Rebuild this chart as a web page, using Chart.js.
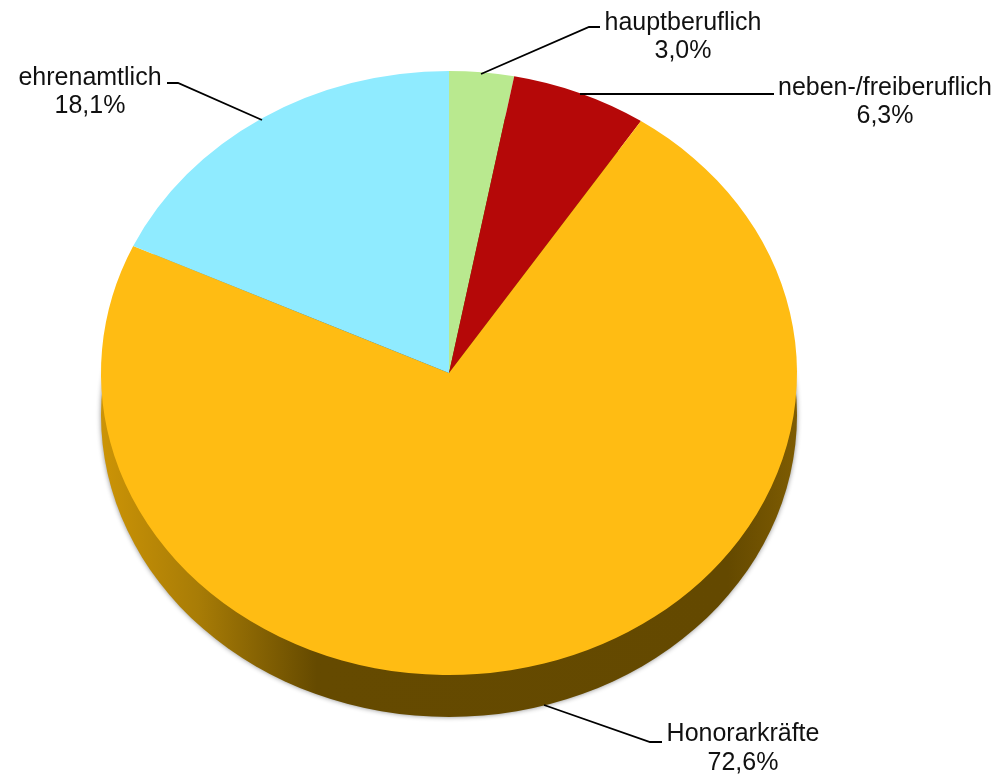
<!DOCTYPE html>
<html>
<head>
<meta charset="utf-8">
<style>html,body{margin:0;padding:0;background:#fff}canvas{display:block}</style>
<script src="https://cdn.jsdelivr.net/npm/chart.js@4"></script>
</head>
<body>
<canvas id="c" width="1000" height="779"></canvas>
<script>
const categories = ['hauptberuflich', 'neben-/freiberuflich', 'Honorarkräfte', 'ehrenamtlich'];
const shares = [3.0, 6.3, 72.6, 18.1];
const shareLabels = ['3,0%', '6,3%', '72,6%', '18,1%'];
const sliceColors = ['#B9E98F', '#B50808', '#FFBC13', '#8FEBFF'];
const labelCentres = [[683, 23, 51], [885, 88, 116], [743, 734, 763], [90, 78, 106]];
const leaders = [
  [[481, 74], [589, 27], [600, 27]],
  [[580, 94], [774, 94]],
  [[544, 705], [650, 742], [662, 742]],
  [[262, 120], [178, 83], [167, 83]]
];
const squash = 0.868;
const wallDepth = 42;

const tilt = {
  id: 'tilt',
  beforeDatasetsDraw(chart) {
    const a = chart.getDatasetMeta(0).data[0];
    const ctx = chart.ctx, r = a.outerRadius, ry = r * squash;
    ctx.save();
    const g = ctx.createLinearGradient(a.x - r, 0, a.x + r, 0);
    g.addColorStop(0, '#CC9406');
    g.addColorStop(0.14, '#A87C06');
    g.addColorStop(0.31, '#654A00');
    g.addColorStop(0.9, '#644900');
    g.addColorStop(1, '#7E5C02');
    ctx.shadowColor = 'rgba(0,0,0,0.45)';
    ctx.shadowBlur = 5;
    ctx.fillStyle = g;
    ctx.beginPath();
    ctx.ellipse(a.x, a.y + wallDepth, r, ry, 0, 0, Math.PI * 2);
    ctx.fill();
    ctx.restore();
  },
  beforeDatasetDraw(chart) {
    const a = chart.getDatasetMeta(0).data[0];
    const ctx = chart.ctx;
    ctx.save();
    ctx.translate(0, a.y);
    ctx.scale(1, squash);
    ctx.translate(0, -a.y);
  },
  afterDatasetDraw(chart) {
    chart.ctx.restore();
  },
  afterDatasetsDraw(chart) {
    const ctx = chart.ctx;
    ctx.save();
    ctx.strokeStyle = '#000';
    ctx.lineWidth = 1.8;
    leaders.forEach(l => {
      ctx.beginPath();
      l.forEach((p, i) => i ? ctx.lineTo(p[0], p[1]) : ctx.moveTo(p[0], p[1]));
      ctx.stroke();
    });
    ctx.fillStyle = '#111';
    ctx.font = '25px "Liberation Sans", Arial, sans-serif';
    ctx.textAlign = 'center';
    ctx.textBaseline = 'middle';
    categories.forEach((name, i) => {
      const [x, y1, y2] = labelCentres[i];
      ctx.fillText(name, x, y1);
      ctx.fillText(shareLabels[i], x, y2);
    });
    ctx.restore();
  }
};

new Chart(document.getElementById('c'), {
  type: 'pie',
  data: {
    labels: categories,
    datasets: [{
      data: shares,
      backgroundColor: sliceColors,
      borderColor: sliceColors,
      borderWidth: 0,
      radius: 348
    }]
  },
  options: {
    responsive: false,
    devicePixelRatio: 1,
    animation: false,
    layout: { padding: { left: 0, right: 102, top: 25, bottom: 58 } },
    plugins: { legend: { display: false }, tooltip: { enabled: false }, title: { display: false } }
  },
  plugins: [tilt]
});
</script>
</body>
</html>
